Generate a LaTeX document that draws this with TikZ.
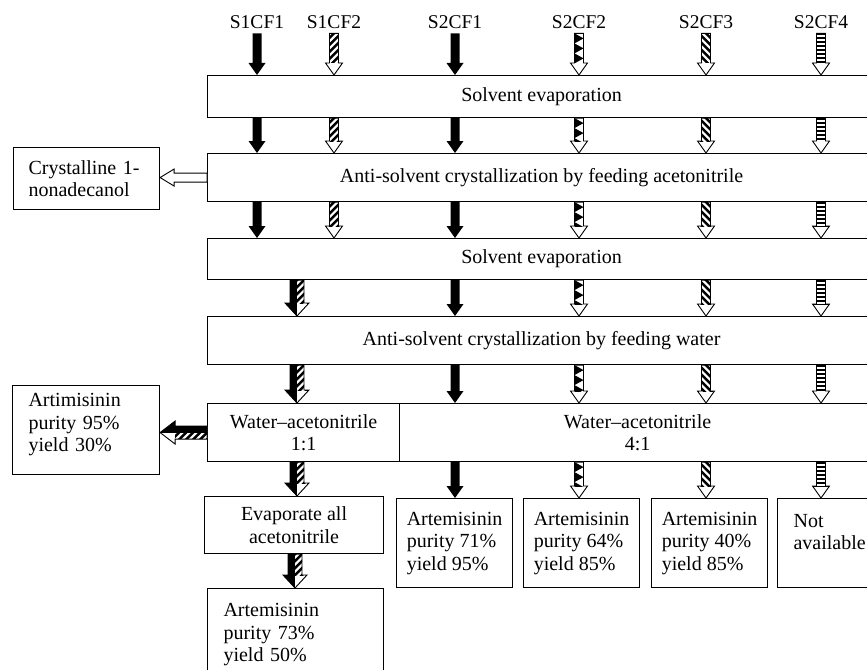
\documentclass[tikz,border=0pt]{standalone}
\usepackage{fontspec}
\setmainfont{Liberation Serif}
\usetikzlibrary{calc}

\tikzset{
  box/.style={draw, line width=1.1pt, inner sep=2pt},
  res/.style={box, anchor=north west, minimum width=116pt, minimum height=89pt, align=left},
  wide/.style={box, anchor=north west, minimum width=668pt},
  lab/.style={anchor=base, inner sep=4pt, font=\fontsize{19.5}{22}\selectfont},
  arrline/.style={draw=black, line width=0.9pt, line join=miter},
}

% arrow shapes in local coordinates (y grows along the arrow, length \bL)
\def\sshape{(-4.5,0) -- (4.5,0) -- (4.5,\bL-12) -- (8.5,\bL-12) -- (0,\bL) -- (-8.5,\bL-12) -- (-4.5,\bL-12) -- cycle}
\def\shaftclip{(-16,-2) rectangle (16,\bL-12)}
\def\mshape{(-7,0) -- (7,0) -- (7,\bL-13) -- (12,\bL-13) -- (0,\bL) -- (-12,\bL-13) -- (-7,\bL-13) -- cycle}
\def\hshape{(-6.5,0) -- (6.5,0) -- (6.5,\bL-15) -- (11.5,\bL-15) -- (0,\bL) -- (-11.5,\bL-15) -- (-6.5,\bL-15) -- cycle}
\def\oshape{(-4.5,0) -- (4.5,0) -- (4.5,\bL-14) -- (8.5,\bL-14) -- (0,\bL) -- (-8.5,\bL-14) -- (-4.5,\bL-14) -- cycle}

\newcommand\arrsolid{\fill[black] \sshape;}
\newcommand\arrstripes[1]{%
  \fill[white] \sshape;
  \begin{scope}\clip \sshape; \clip \shaftclip; #1\end{scope}
  \path[arrline] \sshape;}
\newcommand\arrne{\arrstripes{\foreach \yy in {-14,-7,...,70} \draw[line width=2.4pt] (-12,\yy+12) -- (12,\yy-12);}}
\newcommand\arrnw{\arrstripes{\foreach \yy in {-14,-7,...,70} \draw[line width=2.4pt] (-12,\yy-12) -- (12,\yy+12);}}
\newcommand\arrhl{\arrstripes{\foreach \yy in {1,5,...,70} \draw[line width=2pt] (-10,\yy) -- (10,\yy);}}
\newcommand\arrsaw{\arrstripes{\foreach \yy in {0,10,...,70} \fill (-4.5,\yy) -- (4.5,\yy+5) -- (-4.5,\yy+10) -- cycle;}}
\newcommand\arrmerge{%
  \fill[white] \mshape;
  \begin{scope}\clip \mshape; \fill[black] (-13,-2) rectangle (0,\bL+2);
    \clip (0,-2) rectangle (13,\bL-13);
    \foreach \yy in {-14,-7,...,70} \draw[line width=2.4pt] (-14,\yy+14) -- (14,\yy-14);
  \end{scope}
  \path[arrline] \mshape;}
\newcommand\arrmergeh{%
  \fill[white] \hshape;
  \begin{scope}\clip \hshape; \fill[black] (-13,-2) rectangle (0,\bL+2);
    \clip (0,-2) rectangle (13,\bL-15);
    \foreach \yy in {-14,-7,...,70} \draw[line width=2.4pt] (-14,\yy-14) -- (14,\yy+14);
  \end{scope}
  \path[arrline] \hshape;}
\newcommand\arrhollow{\path[arrline, fill=white] \oshape;}

% block arrow from point #2 to point #3, of kind #1
\newcommand\blockarr[3]{%
  \path let \p1=(#2), \p2=(#3), \n1={veclen(\x2-\x1,\y2-\y1)}, \n2={atan2(\y2-\y1,\x2-\x1)} in
    \pgfextra{\xdef\bAx{\x1}\xdef\bAy{\y1}\pgfmathparse{\n1}\xdef\bL{\pgfmathresult}\pgfmathparse{\n2}\xdef\bAng{\pgfmathresult}};
  \begin{scope}[shift={(\bAx,\bAy)}, rotate=\bAng+90]\csname arr#1\endcsname\end{scope}}

\begin{document}
\begin{tikzpicture}[x=1pt, y=-1pt, font=\fontsize{20}{22.5}\selectfont]
\useasboundingbox (0,0) rectangle (867,669);
\fill[white] (0,0) rectangle (867,669);
\clip (0,0) rectangle (867,669);

% columns
\coordinate (c1) at (257,0);
\coordinate (c2) at (334,0);
\coordinate (c3) at (455,0);
\coordinate (c4) at (579,0);
\coordinate (c5) at (706,0);
\coordinate (c6) at (821,0);
\coordinate (m)  at (297,0);
\coordinate (m2) at (295,0);

% labels
\node[lab] (l1) at (257,29) {S1CF1};
\node[lab] (l2) at (334,29) {S1CF2};
\node[lab] (l3) at (455,29) {S2CF1};
\node[lab] (l4) at (579,29) {S2CF2};
\node[lab] (l5) at (706,29) {S2CF3};
\node[lab] (l6) at (821,29) {S2CF4};

% process boxes
\node[wide, minimum height=42pt] (b1) at (207,75) {Solvent evaporation};
\node[wide, minimum height=48pt] (b2) at (207,153) {Anti-solvent crystallization by feeding acetonitrile};
\node[wide, minimum height=41pt] (b3) at (207,238) {Solvent evaporation};
\node[wide, minimum height=48pt] (b4) at (207,316) {Anti-solvent crystallization by feeding water};
\node[box, anchor=north west, minimum width=192pt, minimum height=58pt, align=center] (b5a) at (207,403) {Water--acetonitrile\\1:1};
\node[box, anchor=north west, minimum width=476pt, minimum height=58pt, align=center] (b5b) at (399,403) {Water--acetonitrile\\4:1};

% side boxes
\node[box, anchor=north west, text width=116pt, inner xsep=15pt, minimum height=62pt, align=left] (cry) at (13,147) {Crystalline 1-\\nonadecanol};
\node[box, anchor=north west, text width=115pt, inner xsep=16pt, minimum height=89pt, align=left] (lr) at (12,385) {Artimisinin\\purity 95\%\\yield 30\%\\[-8pt]\mbox{}};

% bottom boxes
\node[box, anchor=north west, minimum width=179pt, minimum height=57pt, align=center] (ev) at (204,496) {Evaporate all\\acetonitrile};
\node[box, anchor=north west, text width=144pt, inner xsep=16pt, inner ysep=15pt, align=left] (fin) at (207,588) {Artemisinin\\purity 73\%\\yield 50\%};
\node[res] (rA) at (396,498) {Artemisinin\\purity 71\%\\yield 95\%};
\node[res] (rB) at (523,498) {Artemisinin\\purity 64\%\\yield 85\%};
\node[res] (rC) at (651,498) {Artemisinin\\purity 40\%\\yield 85\%};
\node[res, text width=84pt, inner xsep=16pt] (rD) at (777,498) {Not\\available\\\mbox{}};

% arrows from labels
\blockarr{solid}{l1.south}{l1.south |- b1.north}
\blockarr{ne}{l2.south}{l2.south |- b1.north}
\blockarr{solid}{l3.south}{l3.south |- b1.north}
\blockarr{saw}{l4.south}{l4.south |- b1.north}
\blockarr{nw}{l5.south}{l5.south |- b1.north}
\blockarr{hl}{l6.south}{l6.south |- b1.north}

% rows 1 and 2
\foreach \cc/\tp in {c1/solid,c2/ne,c3/solid,c4/saw,c5/nw,c6/hl}{
  \blockarr{\tp}{b1.south -| \cc}{b2.north -| \cc}
  \blockarr{\tp}{b2.south -| \cc}{b3.north -| \cc}
}
% row 3
\blockarr{merge}{b3.south -| m}{b4.north -| m}
\foreach \cc/\tp in {c3/solid,c4/saw,c5/nw,c6/hl}{
  \blockarr{\tp}{b3.south -| \cc}{b4.north -| \cc}
  \blockarr{\tp}{b4.south -| \cc}{b5b.north -| \cc}
}
\blockarr{merge}{b4.south -| m}{b5a.north -| m}

% outputs
\blockarr{hollow}{b2.west}{b2.west -| cry.east}
\blockarr{mergeh}{b5a.west}{b5a.west -| lr.east}
\blockarr{merge}{b5a.south -| m}{ev.north -| m}
\blockarr{merge}{ev.south -| m2}{fin.north -| m2}
\blockarr{solid}{b5b.south -| c3}{rA.north -| c3}
\blockarr{saw}{b5b.south -| c4}{rB.north -| c4}
\blockarr{nw}{b5b.south -| c5}{rC.north -| c5}
\blockarr{hl}{b5b.south -| c6}{rD.north -| c6}
\end{tikzpicture}
\end{document}
